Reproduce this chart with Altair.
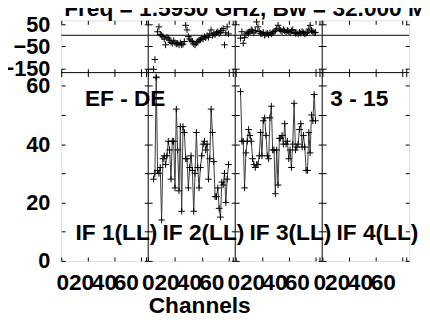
import altair as alt
import pandas as pd

# ---------------- data ----------------
if_labels = ["IF 1(LL)", "IF 2(LL)", "IF 3(LL)", "IF 4(LL)"]
baseline_label = "EF - DE"
time_label = "3 - 15"
title_text = "Freq = 1.5950 GHz, Bw = 32.000 MHz"
x_title = "Channels"

channels_if2 = list(range(4, 61))
amp_if2 = [28, 30, 63, 31, 30, 32, 14, 35, 36, 33, 36, 41, 38, 28, 41, 41, 25, 52, 38, 24,
           46, 17, 46, 44, 35, 35, 25, 32, 36, 31, 17, 30, 44, 32, 25, 32, 36, 40, 41, 38,
           40, 28, 35, 52, 44, 34, 22, 22, 25, 18, 15, 27, 26, 30, 20, 28, 33]
phase_if2 = [-153, -109, -191, 16, 38, 4, 0, -6, -17, -43, -9, -13, -22, -31, -36, -25, -34, -39, -36, -43,
             -34, -43, -40, -28, 45, 24, -6, -17, -25, -28, -39, -43, -34, -28, -22, -20, -13, -17, -6, -11,
             -2, -9, 6, 24, 0, 6, 3, 11, 16, 9, 13, 22, 30, -43, 11, 38, 6]

channels_if3 = list(range(4, 61))
amp_if3 = [58, 41, 41, 25, 37, 41, 45, 43, 41, 35, 33, 32, 33, 33, 36, 44, 36, 48, 49, 43,
           36, 35, 49, 53, 38, 38, 23, 38, 26, 42, 42, 43, 40, 47, 40, 41, 35, 38, 32, 40,
           54, 38, 39, 40, 45, 47, 39, 43, 39, 31, 31, 44, 37, 50, 48, 57, 48]
phase_if3 = [-13, 16, -36, -11, 6, 11, 9, 16, 25, 20, 11, 22, 60, 38, 17, 9, 6, 13, 0, 6,
             9, 2, 11, 6, 11, 17, 20, 28, 45, 28, 22, 17, 25, 20, 13, 22, 17, 11, 20, 25,
             13, 9, 11, 6, 13, 9, 17, 11, 6, 9, 13, 28, 45, 22, 17, 11, 13]

chan_ticks = [0, 20, 40, 60, 63]
phase_ticks = [50, -50, -150]
amp_ticks = [0, 10, 20, 30, 40, 50, 60]
phase_domain = [-168, 67]
amp_domain = [0, 64.5]
n_chan = 65          # channel span of one IF panel
n_if = 4
# pixel shift of each channel label, per IF panel (labels sit crowded in the reference)
label_shift = {0: [1, -0.5, -2, -3], 20: [-7, -8.5, -10, -12],
               40: [-11, -13, -14.5, -16], 60: [-16, -17.5, -19, -20]}

# ---------------- layout / styling ----------------
FONT = "Liberation Sans"
FS = 23
W, H = 353, 244
TOP_H = 53
PW = W / n_if
CROSS = "M-1,0L1,0M0,-1L0,1"

xs = alt.Scale(domain=[0, n_if * n_chan], nice=False, zero=False)


def ph_scale():
    return alt.Scale(domain=phase_domain, range=[TOP_H, 0], nice=False, zero=False)


def amp_scale():
    return alt.Scale(domain=amp_domain, range=[H, TOP_H], nice=False, zero=False)


# tables built from the lists
rows_ph, rows_amp = [], []
for k, chans, ph, am in [(1, channels_if2, phase_if2, amp_if2), (2, channels_if3, phase_if3, amp_if3)]:
    for c, p, a in zip(chans, ph, am):
        rows_ph.append({"gx": k * n_chan + c, "ph": p, "band": if_labels[k]})
        rows_amp.append({"gx": k * n_chan + c, "amp": a, "band": if_labels[k]})
ph_df = pd.DataFrame(rows_ph)
amp_df = pd.DataFrame(rows_amp)
dummy = pd.DataFrame({"gx": [0], "ph": [0], "amp": [0]})
zero_df = pd.DataFrame({"ph": [0]})
split_df = pd.DataFrame({"ph": [phase_domain[0]]})
div_df = pd.DataFrame({"gx": [k * n_chan for k in range(1, n_if)]})

x_tick_vals = [k * n_chan + t for k in range(n_if) for t in chan_ticks]
offset_rules = []
for t, shifts in label_shift.items():
    for k in range(n_if):
        offset_rules.append({"test": f"datum.value == {k * n_chan + t}", "value": shifts[k]})

label_style = dict(labelFont=FONT, labelFontWeight="bold", labelColor="black")
tick_style = dict(tickSize=4, domain=False, grid=False, tickColor="black", tickWidth=1)


def hidden(xaxis=None, yaxis=None, yfield="ph"):
    ysc = ph_scale() if yfield == "ph" else amp_scale()
    return alt.Chart(dummy).mark_point(opacity=0).encode(
        x=alt.X("gx:Q", scale=xs, axis=xaxis),
        y=alt.Y(f"{yfield}:Q", scale=ysc, axis=yaxis))


layers = []

# --- x axes (inward ticks on every horizontal border) ---
bottom_axis = alt.Axis(orient="bottom", values=x_tick_vals, offset=-4, labels=True,
                       labelExpr=f"datum.value % {n_chan} == 63 ? '' : '' + (datum.value % {n_chan})",
                       labelFontSize=FS, labelPadding=11, labelOverlap=False, labelFlush=False,
                       labelOffset={"condition": offset_rules, "value": 0},
                       title=x_title, titleFont=FONT, titleFontSize=FS, titleFontWeight="bold",
                       titleColor="black", titleX=140, titleY=56, titleAlign="center",
                       titleBaseline="alphabetic", **label_style, **tick_style)
layers.append(hidden(xaxis=bottom_axis))
layers.append(hidden(xaxis=alt.Axis(orient="top", values=x_tick_vals, offset=-4, labels=False,
                                    title=None, **tick_style)))
layers.append(hidden(xaxis=alt.Axis(orient="bottom", values=x_tick_vals, offset=-(H - TOP_H) - 4,
                                    labels=False, title=None, **tick_style)))
layers.append(hidden(xaxis=alt.Axis(orient="top", values=x_tick_vals, offset=-(TOP_H + 4),
                                    labels=False, title=None, **tick_style)))

# --- y axes (inward ticks on both sides of every panel) ---
for yfield, vals in [("ph", phase_ticks), ("amp", amp_ticks)]:
    for k in range(n_if):
        left = k * PW
        kw = dict(orient="left", values=vals, offset=-(left + 4), labels=(k == 0), title=None,
                  **tick_style)
        if k == 0:
            kw.update(labelFontSize=22, labelPadding=11.5, labelOverlap=False, labelFlush=False,
                      **label_style)
            if yfield == "amp":
                kw["labelExpr"] = "datum.value % 20 == 0 ? datum.label : ''"
        layers.append(hidden(yaxis=alt.Axis(**kw), yfield=yfield))
        right = (k + 1) * PW
        layers.append(hidden(yaxis=alt.Axis(orient="right", values=vals, offset=right - 4 - W,
                                            labels=False, title=None, **tick_style), yfield=yfield))

# --- frame lines between panels ---
layers.append(alt.Chart(div_df).mark_rule(color="black", strokeWidth=1).encode(
    x=alt.X("gx:Q", scale=xs, axis=None)))
layers.append(alt.Chart(split_df).mark_rule(color="black", strokeWidth=1).encode(
    y=alt.Y("ph:Q", scale=ph_scale(), axis=None)))
layers.append(alt.Chart(zero_df).mark_rule(color="black", strokeWidth=1).encode(
    y=alt.Y("ph:Q", scale=ph_scale(), axis=None)))

# --- data ---
layers.append(alt.Chart(ph_df).mark_point(shape=CROSS, size=45, filled=False, color="black",
                                          strokeWidth=1, opacity=1).encode(
    x=alt.X("gx:Q", scale=xs, axis=None), y=alt.Y("ph:Q", scale=ph_scale(), axis=None)))
layers.append(alt.Chart(amp_df).mark_line(color="#3a3a3a", strokeWidth=1).encode(
    x=alt.X("gx:Q", scale=xs, axis=None), y=alt.Y("amp:Q", scale=amp_scale(), axis=None),
    detail="band:N"))
layers.append(alt.Chart(amp_df).mark_point(shape=CROSS, size=45, filled=False, color="black",
                                           strokeWidth=1, opacity=1).encode(
    x=alt.X("gx:Q", scale=xs, axis=None), y=alt.Y("amp:Q", scale=amp_scale(), axis=None)))


# --- texts ---
def text_layer(txt, x, y):
    return alt.Chart(dummy).mark_text(
        text=txt, font=FONT, fontSize=FS, fontWeight="bold", color="black",
        align="left", baseline="alphabetic"
    ).encode(x=alt.value(x), y=alt.value(y))


layers.append(text_layer(title_text, 3, -4.8))
layers.append(text_layer(baseline_label, 24, 86.7))
layers.append(text_layer(time_label, 273, 86.7))
for k in range(n_if):
    layers.append(text_layer(if_labels[k], k * PW + 14.5, 223.2))

chart = alt.layer(*layers).resolve_scale(y="independent").resolve_axis(
    x="independent", y="independent"
).properties(
    width=W, height=H,
    autosize=alt.AutoSizeParams(type="none"),
    padding={"left": 54, "top": 10.3, "right": 13, "bottom": 57.7},
).configure_view(stroke="black", strokeWidth=1).configure(background="white")

chart.save("out.html", embed_options={"renderer": "svg", "actions": False})
